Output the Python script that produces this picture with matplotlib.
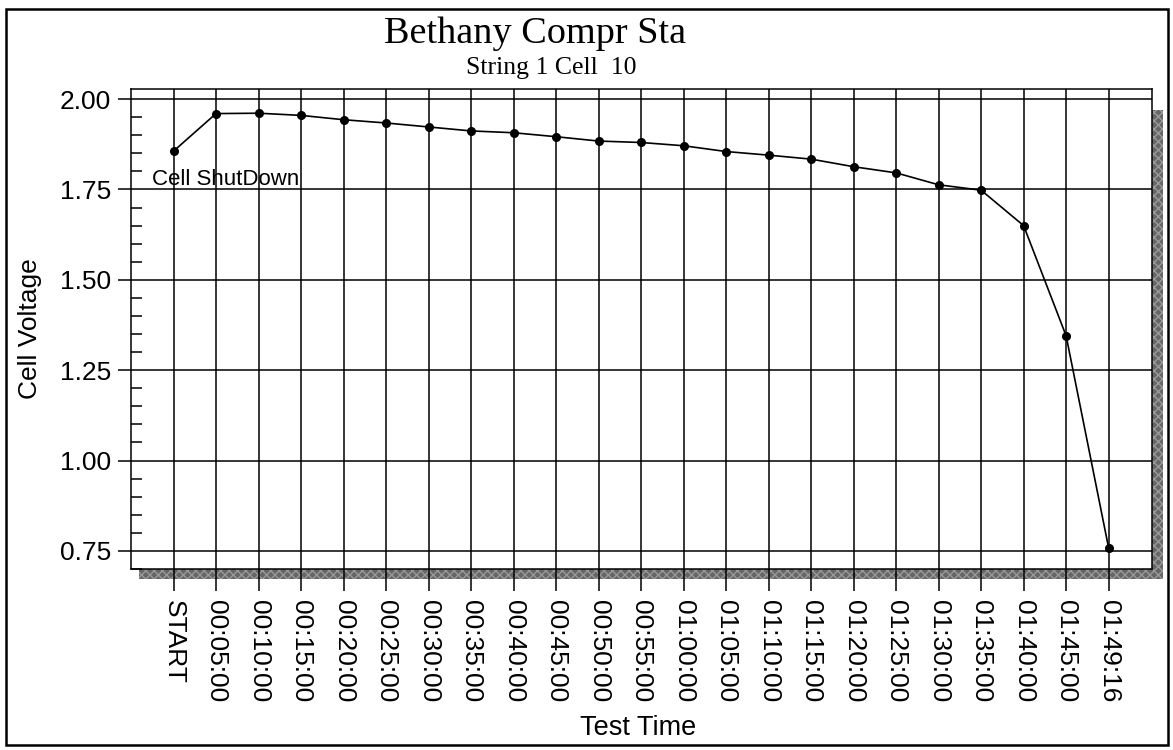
import matplotlib.pyplot as plt
from matplotlib.patches import Rectangle
from matplotlib.ticker import MultipleLocator, FormatStrFormatter

# Test times (x categories) and cell voltage readings
times = ['START', '00:05:00', '00:10:00', '00:15:00', '00:20:00', '00:25:00',
         '00:30:00', '00:35:00', '00:40:00', '00:45:00', '00:50:00', '00:55:00',
         '01:00:00', '01:05:00', '01:10:00', '01:15:00', '01:20:00', '01:25:00',
         '01:30:00', '01:35:00', '01:40:00', '01:45:00', '01:49:16']
volts = [1.856, 1.960, 1.961, 1.955, 1.943, 1.934, 1.923, 1.912, 1.907, 1.896,
         1.884, 1.880, 1.871, 1.855, 1.845, 1.834, 1.813, 1.796, 1.763, 1.748,
         1.650, 1.345, 0.758]
yticks = [0.75, 1.00, 1.25, 1.50, 1.75, 2.00]

plt.rcParams['font.family'] = 'Liberation Sans'

fig = plt.figure(figsize=(11.73, 7.5), dpi=100)
W, H = 1173, 750

# plot area, placed in pixels of the 1173x750 picture
left, right, top, bottom = 131, 1152, 89, 569
ax = fig.add_axes([left / W, 1 - bottom / H, (right - left) / W, (bottom - top) / H])

# dark drop shadow under/right of the plot box
fig.patches.append(Rectangle((139 / W, 1 - 579 / H), (1163 - 139) / W, (579 - 110) / H,
                             transform=fig.transFigure, facecolor='#666666',
                             edgecolor='#999999', hatch='xxxx', lw=0, zorder=-1))
# outer frame round the whole chart
fig.patches.append(Rectangle((6 / W, 1 - 745 / H), (1168 - 6) / W, (745 - 9) / H,
                             transform=fig.transFigure, fill=False,
                             edgecolor='black', lw=1.8, zorder=5))

x = list(range(len(times)))
ax.plot(x, volts, color='black', lw=1.2, marker='o', ms=5.5, zorder=3)

ax.set_xlim(-1, 23.02)
ax.set_ylim(0.700, 2.028)

ax.set_xticks(x)
ax.set_xticklabels(times, rotation=-90, fontsize=19)
ax.set_yticks(yticks)
ax.yaxis.set_major_formatter(FormatStrFormatter('%.2f'))
ax.yaxis.set_minor_locator(MultipleLocator(0.05))

ax.tick_params(axis='x', direction='out', length=16, width=1.1, pad=6, color='black')
ax.tick_params(axis='y', which='major', direction='out', length=9.5, width=1.1,
               pad=5, labelsize=19)
ax.tick_params(axis='y', which='minor', direction='in', length=8, width=1.1)

ax.grid(True, which='major', color='black', lw=1.1)
ax.set_axisbelow(True)
for s in ax.spines.values():
    s.set_color('black')
    s.set_linewidth(1.1)

ax.text(-0.5, 1.762, 'Cell ShutDown', fontsize=16, va='baseline', ha='left', zorder=4)

ax.set_ylabel('Cell Voltage', fontsize=19)
ax.yaxis.set_label_coords((42 - left) / (right - left), 0.5)
ax.set_xlabel('Test Time', fontsize=19.5)
ax.xaxis.set_label_coords((638 - left) / (right - left), (bottom - 715) / (bottom - top))

fig.text(535 / W, 1 - 34 / H, 'Bethany Compr Sta', family='Liberation Serif',
         fontsize=27.5, ha='center', va='center')
fig.text(551 / W, 1 - 68 / H, 'String 1 Cell  10', family='Liberation Serif',
         fontsize=18.5, ha='center', va='center')

fig.savefig('out.png', dpi=100)
